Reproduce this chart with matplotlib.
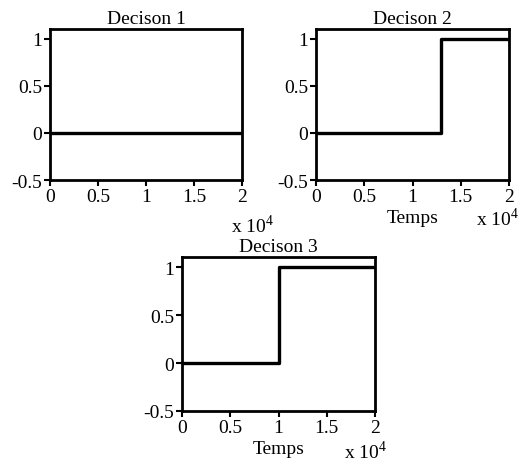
import matplotlib
matplotlib.use("Agg")
import matplotlib.pyplot as plt
from matplotlib.ticker import FuncFormatter

plt.rcParams['font.family'] = ['Liberation Serif', 'DejaVu Serif']
plt.rcParams['font.size'] = 14
plt.rcParams['mathtext.fontset'] = 'custom'
plt.rcParams['mathtext.rm'] = 'Liberation Serif'

titles = ["Decison 1", "Decison 2", "Decison 3"]
# step signals: time breakpoints and values (step 'post')
t1 = [0, 20000]
v1 = [0, 0]
t2 = [0, 13000, 20000]
v2 = [0, 1, 1]
t3 = [0, 10000, 20000]
v3 = [0, 1, 1]
xticks = [0, 5000, 10000, 15000, 20000]
yticks = [-0.5, 0, 0.5, 1]
xlabels = [None, "Temps", "Temps"]

W, H = 520, 464
fig = plt.figure(figsize=(W / 100, H / 100), dpi=100)

boxes = [(50, 30, 242, 181), (316, 30, 509, 181), (182, 258, 375, 412)]
# position (pixels) of the "x 10^4" multiplier text: left x, center y
mult_pos = [(231, 226), (476, 219), (344, 452)]
series = [(t1, v1), (t2, v2), (t3, v3)]

def fmt(x, pos):
    return "%g" % (x / 1e4)

for (l, t, r, b), (ts, vs), title, xl, (mx, my) in zip(boxes, series, titles, xlabels, mult_pos):
    ax = fig.add_axes([l / W, 1 - b / H, (r - l) / W, (b - t) / H])
    ax.step(ts, vs, where='post', color='black', lw=2.4)
    ax.set_xlim(0, 20000)
    ax.set_ylim(-0.5, 1.105)
    ax.set_xticks(xticks)
    ax.set_yticks(yticks)
    ax.xaxis.set_major_formatter(FuncFormatter(fmt))
    ax.yaxis.set_major_formatter(FuncFormatter(lambda y, p: "%g" % y))
    for s in ax.spines.values():
        s.set_linewidth(2)
    ax.tick_params(direction='out', length=4, width=1.5, pad=1.5)
    ax.set_title(title, pad=4, fontsize=14)
    if xl:
        ax.set_xlabel(xl, labelpad=3)
    fig.text(mx / W, 1 - my / H, r"x 10$^{4}$", ha='left', va='center')

fig.savefig("out.png", dpi=100)
